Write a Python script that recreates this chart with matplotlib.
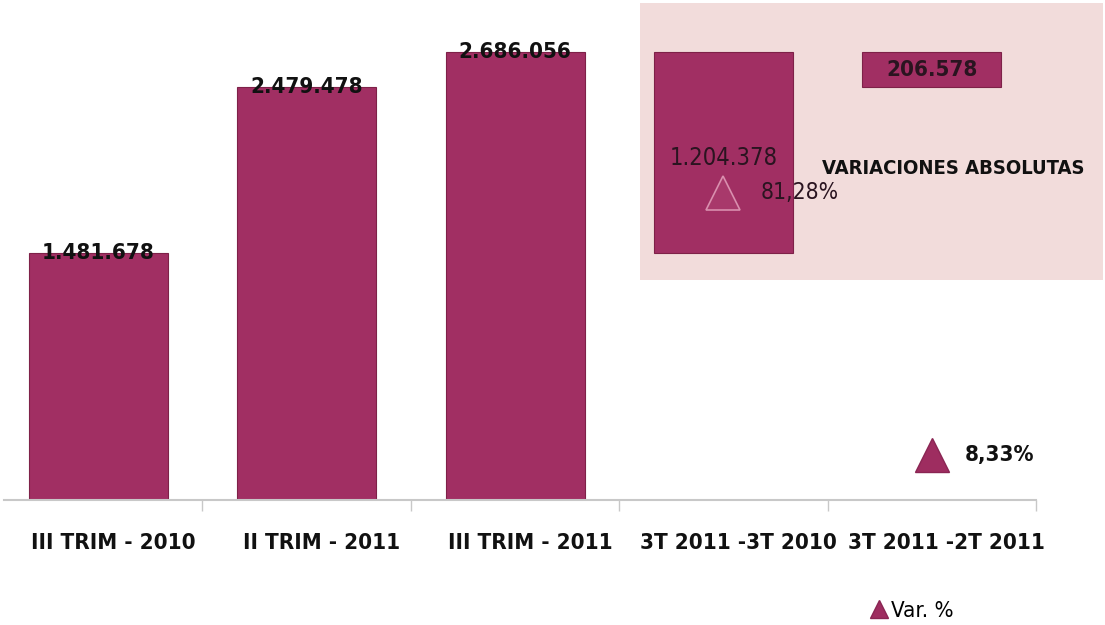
import matplotlib
matplotlib.use("Agg")
import matplotlib.pyplot as plt
from matplotlib.patches import Rectangle
from matplotlib.transforms import ScaledTranslation

plt.rcParams['font.family'] = ['DejaVu Sans']
plt.rcParams['font.stretch'] = 'condensed'

# datos
categorias = ['III TRIM - 2010', 'II TRIM - 2011', 'III TRIM - 2011',
              '3T 2011 -3T 2010', '3T 2011 -2T 2011']
valores = [1481678, 2479478, 2686056]
etiquetas_valores = ['1.481.678', '2.479.478', '2.686.056']
variaciones = [1204378, 206578]
etiquetas_variaciones = ['1.204.378', '206.578']
var_pct = [81.28, 8.33]
etiquetas_pct = ['81,28%', '8,33%']

color_barra = '#A12F63'

fig = plt.figure(figsize=(11.05, 6.25), dpi=100)

# caja rosa de variaciones absolutas
fig.patches.append(Rectangle((0.579, 0.552), 0.419, 0.443, transform=fig.transFigure,
                             facecolor='#F2DCDB', edgecolor='none', zorder=-1))

ax = fig.add_axes([-0.0054, 0.2, 0.943, 0.8])
ax.patch.set_visible(False)

x = range(len(valores))
ax.bar(x, valores, width=0.667, color=color_barra, edgecolor='#7E2148', linewidth=0.8, zorder=2)
for i, v in enumerate(valores):
    ax.text(i, v, etiquetas_valores[i], ha='center', va='center', fontsize=16,
            fontweight='bold', color='#111111', zorder=4)

# barras de variación colgando desde el valor actual
x_var = [3, 4]
tope = [valores[2], valores[2]]
ax.bar(x_var, [-v for v in variaciones], bottom=tope, width=0.667, color=color_barra,
       edgecolor='#7E2148', linewidth=0.8, zorder=2)
for i, v in enumerate(variaciones):
    ax.text(x_var[i], tope[i] - v / 2 - (30000 if i == 0 else 0), etiquetas_variaciones[i],
            ha='center', va='center', fontsize=17 if i == 0 else 16,
            fontweight='bold' if i == 1 else 'normal', color='#2A1420', zorder=4)

ax.set_xlim(-0.5, 4.5)
ax.set_ylim(0, 3000000)
ax.set_yticks([])
for s in ['left', 'right', 'top']:
    ax.spines[s].set_visible(False)
ax.spines['bottom'].set_color('#C8C8C8')
ax.spines['bottom'].set_linewidth(1.5)
ax.spines['bottom'].set_bounds(-0.45, 4.5)
ax.set_xticks(range(len(categorias)))
ax.set_xticklabels(categorias, fontsize=16, fontweight='bold', color='#111111')
ax.tick_params(axis='x', which='major', length=0, pad=24)
ax.set_xticks([i + 0.5 for i in range(len(categorias))], minor=True)
ax.tick_params(axis='x', which='minor', length=8, color='#C8C8C8', width=1)
for lbl in ax.get_xticklabels():
    lbl.set_transform(lbl.get_transform() + ScaledTranslation(0.15, 0, fig.dpi_scale_trans))

# eje secundario para porcentajes
ax2 = ax.twinx()
ax2.set_ylim(-4.2, 135)
ax2.axis('off')
ax2.plot([3], [var_pct[0]], linestyle='none', marker='^', markersize=25,
         markerfacecolor='#A8396B', markeredgecolor='#D98FAE', markeredgewidth=1.2, zorder=3)
linea, = ax2.plot([4], [var_pct[1]], linestyle='none', marker='^', markersize=25,
                  markerfacecolor='#9E2D60', markeredgecolor='#8A2553', zorder=3,
                  label='Var. %')
ax2.annotate(etiquetas_pct[0], (3, var_pct[0]), xytext=(27, 0), textcoords='offset points',
             ha='left', va='center', fontsize=16.5, color='#2A1420')
ax2.annotate(etiquetas_pct[1], (4, var_pct[1]), xytext=(24, 0), textcoords='offset points',
             ha='left', va='center', fontsize=16, fontweight='bold', color='#111111')

fig.text(0.744, 0.731, 'VARIACIONES ABSOLUTAS', fontsize=14.5, fontweight='bold',
         color='#111111', va='center', ha='left')

fig.legend(handles=[linea], loc='center', bbox_to_anchor=(0.826, 0.022), frameon=False,
           fontsize=16, handletextpad=0.2, markerscale=0.5, handlelength=0.7)

fig.savefig('out.png', dpi=100)
